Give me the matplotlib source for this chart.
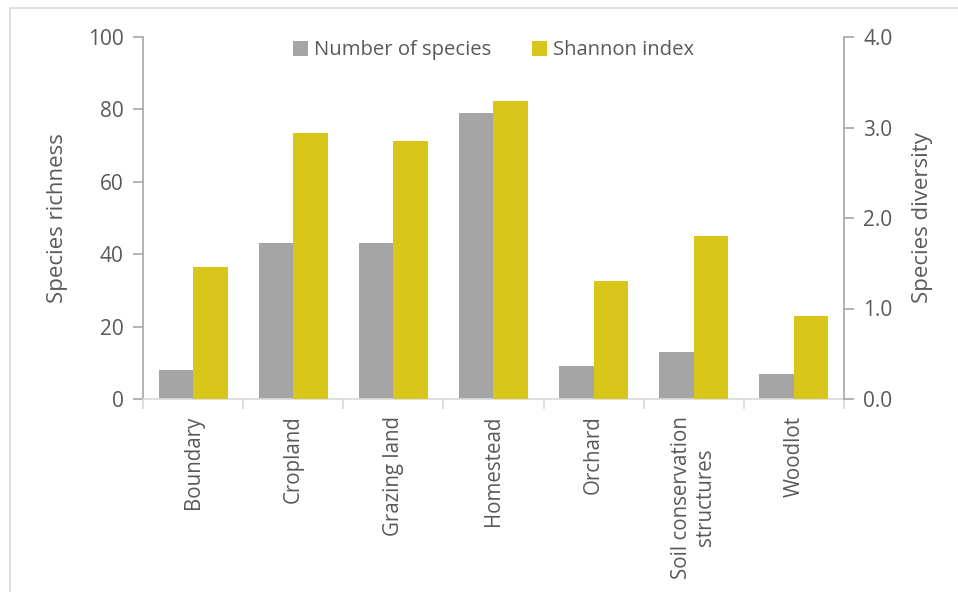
import numpy as np
import matplotlib.pyplot as plt
from matplotlib.patches import Rectangle

categories = ["Boundary", "Cropland", "Grazing land", "Homestead", "Orchard",
              "Soil conservation\nstructures", "Woodlot"]
n_species = [8, 43, 43, 79, 9, 13, 7]
shannon = [1.46, 2.94, 2.85, 3.29, 1.30, 1.80, 0.92]

grey = "#A5A5A5"
gold = "#D8C61B"
text_col = "#595959"
axis_col = "#A6A6A6"

plt.rcParams["font.family"] = ["Open Sans", "DejaVu Sans"]

fig = plt.figure(figsize=(9.58, 5.92), dpi=100)
fig.patches.append(Rectangle((10 / 958, -0.1), 1.1, 1 - 8 / 592 + 0.1,
                             transform=fig.transFigure, fill=False,
                             edgecolor="#D9D9D9", linewidth=1.2))

ax = fig.add_axes([143 / 958, 1 - 399 / 592, (844 - 143) / 958, (399 - 37) / 592])
ax2 = ax.twinx()

x = np.arange(len(categories))
w = 0.345
b1 = ax.bar(x - w / 2, n_species, w, color=grey, label="Number of species")
b2 = ax2.bar(x + w / 2, shannon, w, color=gold, label="Shannon index")

ax.set_xlim(-0.5, len(categories) - 0.5)
ax.set_ylim(0, 100)
ax2.set_ylim(0, 4)
ax.set_yticks(np.arange(0, 101, 20))
ax2.set_yticks(np.arange(0, 4.1, 1.0))
ax2.set_yticklabels([f"{v:.1f}" for v in np.arange(0, 4.1, 1.0)])

ax.set_xticks(x)
ax.set_xticklabels(categories, rotation=90, ha="center", va="top",
                   multialignment="center")
ax.set_xticks(np.arange(-0.5, len(categories)), minor=True)
ax.tick_params(axis="x", which="major", length=0, pad=12, labelsize=14.8,
               labelcolor=text_col)
ax.tick_params(axis="x", which="minor", length=7, color="#D9D9D9", width=1.2)

for a in (ax, ax2):
    for s in a.spines.values():
        s.set_visible(False)
    a.tick_params(axis="y", length=7, width=1.2, color=axis_col,
                  labelsize=15, labelcolor=text_col, pad=7)

ax.spines["left"].set_visible(True)
ax.spines["left"].set_color(axis_col)
ax.spines["left"].set_linewidth(1.2)
ax.spines["bottom"].set_visible(True)
ax.spines["bottom"].set_color("#D9D9D9")
ax.spines["bottom"].set_linewidth(1.2)
ax2.spines["right"].set_visible(True)
ax2.spines["right"].set_color(axis_col)
ax2.spines["right"].set_linewidth(1.2)

ax.set_ylabel("Species richness", fontsize=16, color=text_col, labelpad=14)
ax2.set_ylabel("Species diversity", fontsize=16, color=text_col, labelpad=14,
               rotation=90)

fig.legend(handles=[b1, b2], loc="upper center", ncol=2, frameon=False,
           bbox_to_anchor=(0.515, 0.963), fontsize=14.6, labelcolor=text_col,
           handlelength=0.75, handleheight=0.75, handletextpad=0.3,
           columnspacing=2.0)

fig.savefig("out.png", dpi=100)
